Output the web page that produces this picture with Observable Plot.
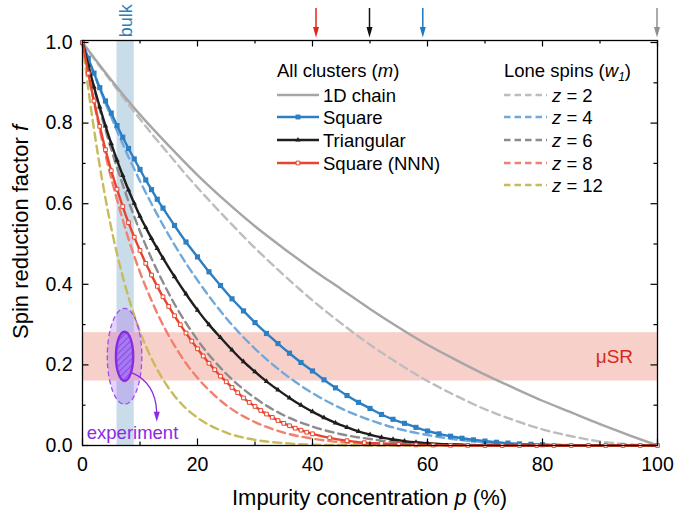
<!DOCTYPE html>
<html><head><meta charset="utf-8">
<script src="https://cdn.jsdelivr.net/npm/d3@7"></script>
<script src="https://cdn.jsdelivr.net/npm/@observablehq/plot@0.6"></script>
<style>body{margin:0;background:#fff}#chart{width:675px;height:512px}</style>
</head><body><div id="chart"></div>
<script>
// ---------- data ----------
const pLone = [0,1,2,3,4,5,6,7,8,9,10,12,14,16,18,20,25,30,35,40,45,50,55,60,65,70,75,80,85,90,95,100];
const loneZ2  = [1,.980,.960,.941,.922,.903,.884,.865,.846,.828,.810,.774,.740,.706,.672,.640,.563,.490,.423,.360,.303,.250,.203,.160,.123,.090,.063,.040,.023,.010,.003,0];
const loneZ4  = [1,.961,.922,.885,.849,.815,.781,.748,.716,.686,.656,.600,.547,.498,.452,.410,.316,.240,.179,.130,.092,.063,.041,.026,.015,.008,.004,.002,.001,0,0,0];
const loneZ6  = [1,.942,.886,.833,.783,.735,.690,.647,.606,.568,.531,.464,.405,.351,.304,.262,.178,.118,.075,.047,.028,.016,.008,.004,.002,.001,0,0,0,0,0,0];
const loneZ8  = [1,.923,.851,.784,.721,.663,.610,.560,.513,.470,.430,.360,.299,.248,.204,.168,.100,.058,.032,.017,.008,.004,.002,.001,0,0,0,0,0,0,0,0];
const loneZ12 = [1,.886,.785,.694,.613,.540,.476,.419,.368,.323,.282,.216,.164,.123,.092,.069,.032,.014,.006,.002,.001,0,0,0,0,0,0,0,0,0,0,0];

const pChain = [0,5,10,15,20,25,30,35,40,45,50,55,60,65,70,75,80,85,90,95,100];
const chainM = [1,.907,.821,.744,.671,.605,.544,.489,.437,.388,.339,.293,.250,.212,.176,.143,.111,.082,.053,.026,0];

const pLattice = [0,1,2,3,4,5,6,7,8,9,10,11,12,13,14,16,18,20,22,24,26,28,30,32,34,36,38,40,42,44,46,48,50,52,54,56,58,60,62,64,66,68,70,72,74,76,78,80,82,84,86,88,90,92,94,96,98,100];
const squareM = [1,.961,.924,.888,.855,.825,.794,.765,.737,.711,.685,.659,.635,.611,.589,
  .546,.505,.468,.431,.397,.364,.334,.305,.278,.253,.229,.206,.185,.163,.143,.124,.107,.092,.077,.065,.055,.045,.036,.029,.023,.018,.014,.011,.008,.006,.004,.003,.002,.0015,.001,.0007,.0004,.0002,.0001,0,0,0,0];
const triangularM = [1,.944,.890,.840,.793,.749,.708,.670,.634,.601,.569,.541,.514,.489,.465,
  .419,.376,.336,.300,.268,.237,.208,.183,.159,.138,.118,.100,.084,.069,.056,.045,.035,.027,.020,.015,.011,.008,.006,.004,.003,.002,.001,.001,.0005,.0003,.0002,.0001,0,0,0,0,0,0,0,0,0,0,0];

const pNNN = [0,1,2,3,4,5,6,7,8,9,10,11,12,13,14,15,16,17,18,19,20,21,22,23,24,25,26,27,28,29,30,31,32,33,34,35,36,37,38,39,40,43,46,49,52,55,58,61,64,67,70,73,76,79,82,85,88,91,94,97,100];
const nnnM = [1,.924,.855,.792,.734,.682,.636,.593,.553,.517,.484,.452,.423,.395,.369,.345,.322,.300,.279,.259,.240,.222,.204,.188,.172,.158,.144,.131,.118,.107,.097,.087,.078,.070,.062,.055,.049,.043,.038,.033,.029,
  .019,.012,.007,.005,.003,.0015,.001,.0005,.0002,0,0,0,0,0,0,0,0,0,0,0];

const thresholds = [40.7, 50, 59.27, 100];
const thresholdColors = ["#e2261c", "#111111", "#2179c2", "#8f8f8f"];
const xTicksMajor = [0,20,40,60,80,100];
const xTicksMinor = [10,30,50,70,90];
const yTicksMajor = [0,0.2,0.4,0.6,0.8,1.0];
const yTicksMinor = [0.1,0.3,0.5,0.7,0.9];
const bulkBand = [{p1: 6, p2: 9, label: "bulk", p: 7.6, f: 1.013}];
const musrBand = [{f1: 0.16, f2: 0.28, label: "\u03bcSR", p: 92.5, f: 0.219}];
const experiment = {p: 7.4, f: 0.22, innerDp: 1.5, innerDf: 0.061, outerDp: 3.0, outerDf: 0.119,
  label: "experiment", labelP: 8.7, labelF: 0.032, arrowFrom: [8.5, 0.18], arrowTo: [13.0, 0.058]};

const clusterNames = ["1D chain", "Square", "Triangular", "Square (NNN)"];
const loneNames = ["2", "4", "6", "8", "12"];

// ---------- styles ----------
const C = {chain:"#a6a6a6", square:"#2d7fc3", tri:"#1e1e1e", nnn:"#e8442f",
  z2:"#bdbdbd", z4:"#6fa9dc", z6:"#8c8c8c", z8:"#f0806f", z12:"#c8bb5c"};
const rows = (ps, fs) => ps.map((p, i) => ({p, f: fs[i]}));
const W = 675, H = 512, mL = 82, mR = 18, mT = 40, mB = 67;
const plotW = W - mL - mR, plotH = H - mT - mB;
const dash = "8,5";
const lw = 2.4;

const loneSeries = [[loneZ2, C.z2], [loneZ4, C.z4], [loneZ6, C.z6], [loneZ8, C.z8], [loneZ12, C.z12]];
const squareRows = rows(pLattice, squareM), triRows = rows(pLattice, triangularM), nnnRows = rows(pNNN, nnnM);

const chart = Plot.plot({
  width: W, height: H, marginLeft: mL, marginRight: mR, marginTop: mT, marginBottom: mB,
  x: {domain: [0, 100]},
  y: {domain: [0, 1.005]},
  style: {fontFamily: "Liberation Sans, Arial, Helvetica, sans-serif", fontSize: "19.5px", color: "black", background: "white", overflow: "visible"},
  marks: [
    Plot.rect(bulkBand, {x1: "p1", x2: "p2", fill: "#c9dcea"}),
    Plot.rect(musrBand, {y1: "f1", y2: "f2", fill: "#f8d0ca"}),
    ...loneSeries.map(([fs, c]) => Plot.line(rows(pLone, fs), {x: "p", y: "f", stroke: c, strokeWidth: lw, strokeDasharray: dash, curve: "monotone-x"})),
    Plot.line(rows(pChain, chainM), {x: "p", y: "f", stroke: C.chain, strokeWidth: lw, curve: "monotone-x"}),
    Plot.line(squareRows, {x: "p", y: "f", stroke: C.square, strokeWidth: lw, curve: "monotone-x"}),
    Plot.dot(squareRows.filter(d => d.p <= 80), {x: "p", y: "f", symbol: "square", r: 2.9, fill: C.square}),
    Plot.line(triRows, {x: "p", y: "f", stroke: C.tri, strokeWidth: lw, curve: "monotone-x"}),
    Plot.dot(triRows.filter(d => d.p <= 60), {x: "p", y: "f", symbol: "triangle", r: 2.0, fill: C.tri}),
    Plot.line(nnnRows, {x: "p", y: "f", stroke: C.nnn, strokeWidth: lw, curve: "monotone-x"}),
    Plot.dot(nnnRows, {x: "p", y: "f", symbol: "square", r: 2.1, fill: "white", stroke: C.nnn, strokeWidth: 1}),
    Plot.text(bulkBand, {x: "p", y: "f", text: "label", rotate: -90, textAnchor: "start", fill: "#2e7dba", fontSize: 18}),
    Plot.text(musrBand, {x: "p", y: "f", text: "label", fill: "#d42a20", fontSize: 19}),
    Plot.text([experiment], {x: "labelP", y: "labelF", text: "label", fill: "#8a2be2", fontSize: 18.5}),
    Plot.ruleX(xTicksMajor, {insetTop: plotH - 6.5, stroke: "black", strokeWidth: 1.2}),
    Plot.ruleX(xTicksMinor, {insetTop: plotH - 3.5, stroke: "black", strokeWidth: 1.2}),
    Plot.ruleX(xTicksMajor, {insetBottom: plotH - 6.5, stroke: "black", strokeWidth: 1.2}),
    Plot.ruleX(xTicksMinor, {insetBottom: plotH - 3.5, stroke: "black", strokeWidth: 1.2}),
    Plot.ruleY(yTicksMajor, {insetRight: plotW - 6.5, stroke: "black", strokeWidth: 1.2}),
    Plot.ruleY(yTicksMinor, {insetRight: plotW - 3.5, stroke: "black", strokeWidth: 1.2}),
    Plot.ruleY(yTicksMajor, {insetLeft: plotW - 6.5, stroke: "black", strokeWidth: 1.2}),
    Plot.ruleY(yTicksMinor, {insetLeft: plotW - 3.5, stroke: "black", strokeWidth: 1.2}),
    Plot.frame({stroke: "black", strokeWidth: 1.3}),
    Plot.axisX({anchor: "bottom", ticks: xTicksMajor, tickSize: 0, tickPadding: 12, label: null, fontSize: 19.5}),
    Plot.axisY({anchor: "left", ticks: yTicksMajor, tickSize: 0, tickPadding: 10, tickFormat: d3.format(".1f"), label: null, fontSize: 19.5})
  ]
});
document.getElementById("chart").appendChild(chart);

// ---------- annotations via the plot's own scales ----------
const sx = v => chart.scale("x").apply(v);
const sy = v => chart.scale("y").apply(v);
const svg = d3.select(chart);
const font = "Liberation Sans, Arial, Helvetica, sans-serif";

// hatch pattern
const defs = svg.append("defs");
const pat = defs.append("pattern").attr("id", "hatch").attr("patternUnits", "userSpaceOnUse")
  .attr("width", 4.5).attr("height", 4.5).attr("patternTransform", "rotate(45)");
pat.append("rect").attr("width", 4.5).attr("height", 4.5).attr("fill", "#a678f2");
pat.append("line").attr("x1", 0).attr("y1", 0).attr("x2", 0).attr("y2", 4.5).attr("stroke", "#7a30d8").attr("stroke-width", 1.2);

// experiment ellipses
const ex = experiment;
const g = svg.append("g");
g.append("ellipse").attr("cx", sx(ex.p)).attr("cy", sy(ex.f))
  .attr("rx", sx(ex.p + ex.outerDp) - sx(ex.p)).attr("ry", sy(ex.f) - sy(ex.f + ex.outerDf))
  .attr("fill", "#9955ee").attr("fill-opacity", 0.26).attr("stroke", "#a24cf0").attr("stroke-width", 1.3).attr("stroke-dasharray", "5,3");
g.append("ellipse").attr("cx", sx(ex.p)).attr("cy", sy(ex.f))
  .attr("rx", sx(ex.p + ex.innerDp) - sx(ex.p)).attr("ry", sy(ex.f) - sy(ex.f + ex.innerDf))
  .attr("fill", "url(#hatch)").attr("stroke", "#8a2be2").attr("stroke-width", 2.4);
// curved arrow
const [ax0, ay0] = [sx(ex.arrowFrom[0]), sy(ex.arrowFrom[1])];
const [ax1, ay1] = [sx(ex.arrowTo[0]), sy(ex.arrowTo[1])];
g.append("path").attr("d", `M${ax0},${ay0}Q${ax1 - 1},${ay0 + 10} ${ax1},${ay1 - 9}`)
  .attr("fill", "none").attr("stroke", "#8a2be2").attr("stroke-width", 1.3);
g.append("path").attr("d", `M${ax1 - 3},${ay1 - 10}L${ax1 + 3},${ay1 - 10}L${ax1},${ay1}Z`).attr("fill", "#8a2be2");

// percolation threshold arrows above the frame
thresholds.forEach((p, i) => {
  const x = sx(p);
  svg.append("line").attr("x1", x).attr("x2", x).attr("y1", 8).attr("y2", 30)
    .attr("stroke", thresholdColors[i]).attr("stroke-width", 1.5);
  svg.append("path").attr("d", `M${x - 3},${27}L${x + 3},${27}L${x},${37.5}Z`).attr("fill", thresholdColors[i]);
});

// axis titles
const xt = svg.append("text").attr("x", mL + plotW / 2).attr("y", 505).attr("text-anchor", "middle")
  .attr("font-family", font).attr("font-size", 22).attr("fill", "black");
xt.append("tspan").text("Impurity concentration ");
xt.append("tspan").attr("font-style", "italic").text("p");
xt.append("tspan").text(" (%)");
const yt = svg.append("text").attr("transform", "translate(28,232) rotate(-90)").attr("text-anchor", "middle")
  .attr("font-family", font).attr("font-size", 22).attr("fill", "black");
yt.append("tspan").text("Spin reduction factor ");
yt.append("tspan").attr("font-style", "italic").text("f");

// legends
const rowY = [95, 117, 140, 163, 185];
const lg = svg.append("g").attr("font-family", font).attr("font-size", 18.5).attr("fill", "black").attr("text-anchor", "start");
const h1 = lg.append("text").attr("x", 277).attr("y", 76.5);
h1.append("tspan").text("All clusters (");
h1.append("tspan").attr("font-style", "italic").text("m");
h1.append("tspan").text(")");
const clusterStyles = [
  {c: C.chain, sym: null},
  {c: C.square, sym: d3.symbolSquare, size: 24, fill: C.square},
  {c: C.tri, sym: d3.symbolTriangle, size: 12, fill: C.tri},
  {c: C.nnn, sym: d3.symbolSquare, size: 14, fill: "white", stroke: C.nnn}
];
clusterNames.forEach((name, i) => {
  const y = rowY[i], s = clusterStyles[i];
  lg.append("line").attr("x1", 277).attr("x2", 319).attr("y1", y).attr("y2", y).attr("stroke", s.c).attr("stroke-width", lw);
  if (s.sym) lg.append("path").attr("transform", `translate(298,${y})`).attr("d", d3.symbol(s.sym, s.size)())
    .attr("fill", s.fill).attr("stroke", s.stroke || "none").attr("stroke-width", 1);
  lg.append("text").attr("x", 323).attr("y", y + 6.5).text(name);
});
const h2 = lg.append("text").attr("x", 504).attr("y", 76.5);
h2.append("tspan").text("Lone spins (");
h2.append("tspan").attr("font-style", "italic").text("w");
h2.append("tspan").attr("font-style", "italic").attr("font-size", 12).attr("dy", 4).text("1");
h2.append("tspan").attr("dy", -4).text(")");
loneNames.forEach((z, i) => {
  const y = rowY[i];
  lg.append("line").attr("x1", 504).attr("x2", 547).attr("y1", y).attr("y2", y)
    .attr("stroke", loneSeries[i][1]).attr("stroke-width", lw).attr("stroke-dasharray", "6.5,4");
  const t = lg.append("text").attr("x", 552).attr("y", y + 6.5);
  t.append("tspan").attr("font-style", "italic").text("z");
  t.append("tspan").text(" = " + z);
});
</script></body></html>
